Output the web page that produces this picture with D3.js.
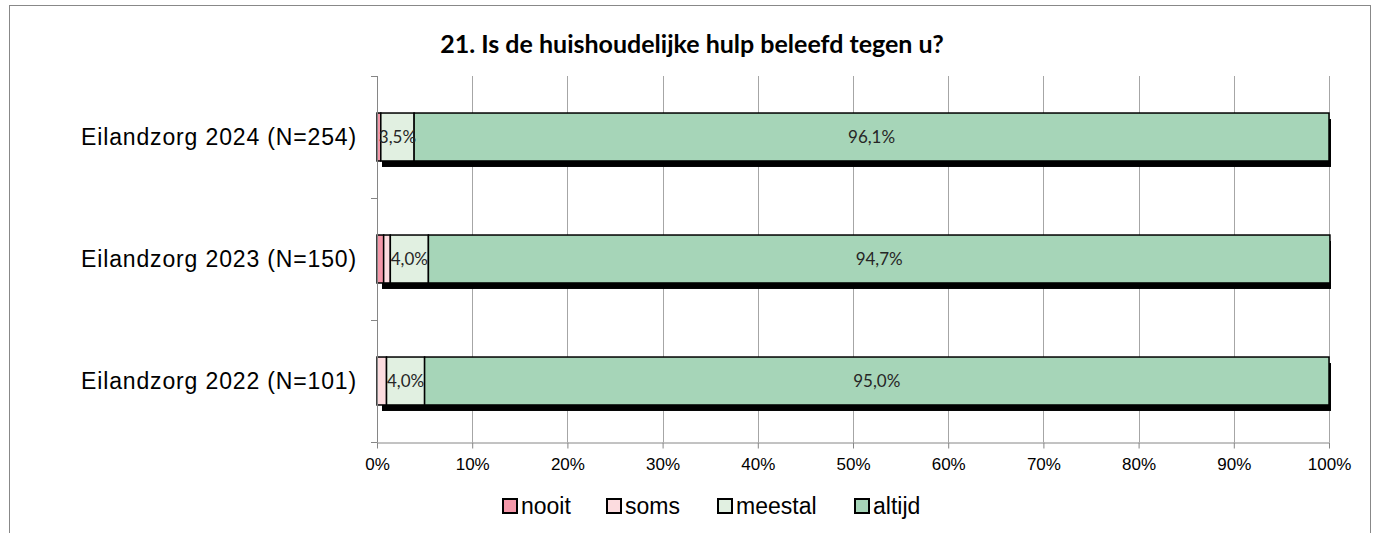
<!DOCTYPE html>
<html>
<head>
<meta charset="utf-8">
<script src="https://cdn.jsdelivr.net/npm/d3@7"></script>
<style>
  body { margin: 0; background: #fff; }
  svg { display: block; }
  .axis path, .axis line { stroke: #868686; }
  .axis text { font-family: "Liberation Sans", Arial, sans-serif; fill: #000; }
</style>
</head>
<body>
<div id="chart"></div>
<script>
var categories = ["Eilandzorg 2024 (N=254)", "Eilandzorg 2023 (N=150)", "Eilandzorg 2022 (N=101)"];
var seriesNames = ["nooit", "soms", "meestal", "altijd"];
var nooit   = [0.4, 0.7, 0.0];
var soms    = [0.0, 0.7, 1.0];
var meestal = [3.5, 4.0, 4.0];
var altijd  = [96.1, 94.7, 95.0];
var labelled = ["meestal", "altijd"];
var xTicks = [0, 10, 20, 30, 40, 50, 60, 70, 80, 90, 100];

var colors = {nooit: "#f497a9", soms: "#fcdcdf", meestal: "#e1f0e1", altijd: "#a6d5b8"};

var W = 1377, H = 533;
var margin = {top: 76, left: 377, right: 48, bottom: 91},
    width  = W - margin.left - margin.right,
    height = H - margin.top - margin.bottom;

var nl = d3.formatLocale({decimal: ",", thousands: ".", grouping: [3], currency: ["€", ""]});
var fmtLabel = nl.format(".1f");

var svg = d3.select("#chart").append("svg")
    .attr("width", W).attr("height", H);

// chart frame
svg.append("rect")
    .attr("x", 9.5).attr("y", 5.5)
    .attr("width", 1361).attr("height", H + 20)
    .attr("fill", "#fff").attr("stroke", "#888").attr("stroke-width", 1);

svg.append("text")
    .attr("x", 692).attr("y", 53)
    .attr("text-anchor", "middle")
    .style("font-family", "Lato, 'Open Sans', sans-serif")
    .style("font-weight", "bold")
    .style("font-size", "25px")
    .text("21. Is de huishoudelijke hulp beleefd tegen u?");

var g = svg.append("g").attr("transform", "translate(" + margin.left + "," + margin.top + ")");

var x = d3.scaleLinear().domain([0, 100]).range([0, width]);
var y = d3.scaleBand().domain(categories).range([0, height]).paddingInner(0.607).paddingOuter(0.3035);

// gridlines
g.append("g").selectAll("line")
  .data(xTicks.slice(1))
  .join("line")
    .attr("x1", function(d) { return Math.round(x(d)) + 0.5; })
    .attr("x2", function(d) { return Math.round(x(d)) + 0.5; })
    .attr("y1", 0).attr("y2", height)
    .attr("stroke", "#a6a6a6").attr("stroke-width", 1);

// stacked data
var rows = categories.map(function(c, i) {
  return {cat: c, nooit: nooit[i], soms: soms[i], meestal: meestal[i], altijd: altijd[i]};
});
var stack = d3.stack().keys(seriesNames)(rows);

// shadow under each bar
g.append("g").selectAll("rect")
  .data(rows)
  .join("rect")
    .attr("x", x(0) + 5)
    .attr("y", function(d) { return y(d.cat) + 6; })
    .attr("width", x(100) - x(0) - 3)
    .attr("height", y.bandwidth())
    .attr("fill", "#000");

var layer = g.append("g").selectAll("g")
  .data(stack)
  .join("g")
    .attr("fill", function(d) { return colors[d.key]; });

layer.selectAll("rect")
  .data(function(d) { return d.filter(function(p) { return p[1] - p[0] > 0; }); })
  .join("rect")
    .attr("x", function(d) { return x(d[0]); })
    .attr("y", function(d) { return y(d.data.cat); })
    .attr("width", function(d) { return x(d[1]) - x(d[0]); })
    .attr("height", y.bandwidth())
    .attr("stroke", "#000").attr("stroke-width", 1.5);

// data labels
stack.filter(function(s) { return labelled.indexOf(s.key) >= 0; }).forEach(function(s) {
  g.append("g").selectAll("text")
    .data(s)
    .join("text")
      .attr("x", function(d) { return x((d[0] + d[1]) / 2); })
      .attr("y", function(d) { return y(d.data.cat) + y.bandwidth() / 2; })
      .attr("dy", "0.35em")
      .attr("text-anchor", "middle")
      .style("font-family", "Lato, 'Open Sans', sans-serif")
      .style("font-size", "17px")
      .attr("fill", "#262626")
      .text(function(d) { return fmtLabel(d[1] - d[0]) + "%"; });
});

// y axis: line, category boundary ticks, labels
var yAxis = g.append("g").attr("class", "axis");
yAxis.append("line")
    .attr("x1", 0.5).attr("x2", 0.5).attr("y1", 0).attr("y2", height);
var bounds = categories.map(function(c) { return y(c) - y.step() * y.paddingInner() / 2; }).concat([height]);
yAxis.selectAll(".bt")
  .data(bounds)
  .join("line")
    .attr("class", "bt")
    .attr("x1", -6).attr("x2", 0.5)
    .attr("y1", function(d) { return Math.round(d) + 0.5; })
    .attr("y2", function(d) { return Math.round(d) + 0.5; });
yAxis.selectAll(".cl")
  .data(categories)
  .join("text")
    .attr("class", "cl")
    .attr("x", -20)
    .attr("y", function(d) { return y(d) + y.bandwidth() / 2; })
    .attr("dy", "0.35em")
    .attr("text-anchor", "end")
    .style("font-size", "23px")
    .style("letter-spacing", "0.85px")
    .text(function(d) { return d; });

// x axis
g.append("g")
    .attr("class", "axis")
    .attr("transform", "translate(0," + (height + 0.5) + ")")
    .call(d3.axisBottom(x).tickValues(xTicks).tickSize(6).tickSizeOuter(0)
      .tickFormat(function(d) { return d + "%"; }))
    .call(function(a) {
      a.selectAll("text").style("font-size", "17px").attr("dy", "1.1em");
    });

// legend
var legendX = [503, 607, 718, 855];
var legend = svg.append("g").selectAll("g")
  .data(seriesNames)
  .join("g")
    .attr("transform", function(d, i) { return "translate(" + legendX[i] + ",499)"; });
legend.append("rect")
    .attr("width", 14).attr("height", 14)
    .attr("fill", function(d) { return colors[d]; })
    .attr("stroke", "#000").attr("stroke-width", 2);
legend.append("text")
    .attr("x", 18).attr("y", 7).attr("dy", "0.36em")
    .style("font-family", "'Liberation Sans', Arial, sans-serif")
    .style("font-size", "23px")
    .text(function(d) { return d; });
</script>
</body>
</html>
